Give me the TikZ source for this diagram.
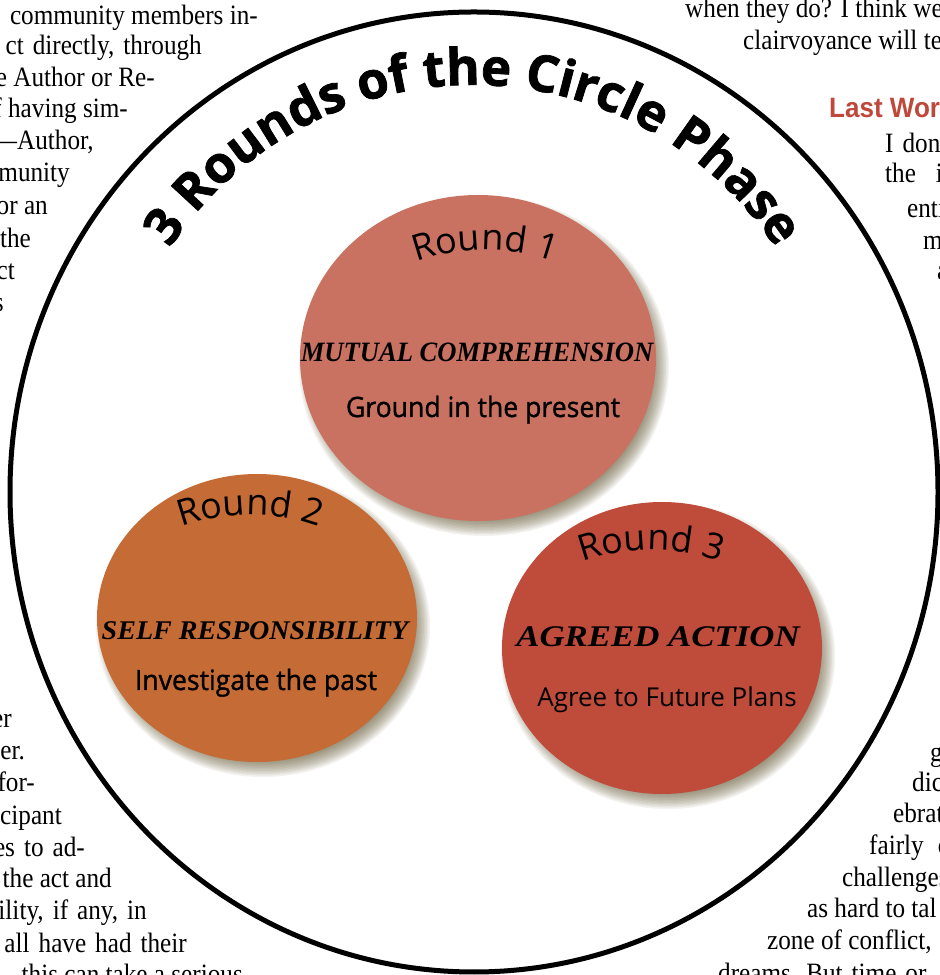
\documentclass[tikz,border=0pt]{standalone}
\usepackage{fontspec}
\usetikzlibrary{decorations.text,calc,shapes.geometric}
\newfontfamily\bodyfont[FakeStretch=0.9]{Liberation Serif}
\newfontfamily\headfont{Liberation Sans}
\newfontfamily\myr{Open Sans}
\newfontfamily\titlef[BoldFeatures={FakeBold=1.5}]{Open Sans}
\newfontfamily\myrsemi[FakeBold=1.2]{Open Sans}
\newfontfamily\slabfont{Liberation Serif}
\definecolor{rone}{RGB}{201,114,98}
\definecolor{rtwo}{RGB}{197,107,53}
\definecolor{rthree}{RGB}{191,75,59}
\definecolor{headred}{RGB}{192,72,59}
\definecolor{shad}{RGB}{95,82,45}
\newcommand\shadowell[4]{% cx cy rx ry
  \foreach \k in {0,...,11}{
    \fill[shad, opacity=0.075] (#1+6,#2-8) ellipse [x radius=#3+7-1.5*\k, y radius=#4+7-1.5*\k];
  }}
\tikzset{
  body/.style={font=\bodyfont\fontsize{28}{32}\selectfont, inner sep=0pt},
  bodyL/.style={body, anchor=base east},
  bodyR/.style={body, anchor=base west},
  roundcirc/.style={ellipse, inner sep=0pt},
  slab/.style={font=\slabfont\bfseries\itshape\fontsize{28}{30}\selectfont, inner sep=0pt, anchor=base},
  semi/.style={font=\myrsemi\fontsize{28}{30}\selectfont, inner sep=0pt, anchor=base},
}
\begin{document}
\begin{tikzpicture}[x=1pt,y=1pt]
\useasboundingbox (0,0) rectangle (940,975);
\clip (0,0) rectangle (940,975);
\fill[white] (0,0) rectangle (940,975);

% surrounding page text, left column
\node[bodyL] (l1) at (258,950) {community members in-};
\node[bodyL] (l2) at (202,920) {ct\hskip 9pt directly,\hskip 9pt through};
\node[bodyL] (l3) at (155,888) {e Author or Re-};
\node[bodyL] (l4) at (128,857) {f having sim-};
\node[bodyL] (l5) at (94,825) {—Author,};
\node[bodyL] (l6) at (70,793) {munity};
\node[bodyL] (l7) at (48,760) {or an};
\node[bodyL] (l8) at (31,727) {the};
\node[bodyL] (l9) at (15,695) {ct};
\node[bodyL] (l10) at (4,663) {s};
\node[bodyL] (b1) at (12,247) {er};
\node[bodyL] (b2) at (25,215) {er.};
\node[bodyL] (b3) at (35,183) {for-};
\node[bodyL] (b4) at (62,150) {cipant};
\node[bodyL] (b5) at (85,118) {es\hskip 9pt to\hskip 9pt ad-};
\node[bodyL] (b6) at (112,87) {the act and};
\node[bodyL] (b7) at (147,55) {ility,\hskip 9pt if\hskip 9pt any,\hskip 9pt in};
\node[bodyL] (b8) at (187,23) {all\hskip 9pt have\hskip 9pt had\hskip 9pt their};
\node[bodyL] (b9) at (243,-9) {this can take a serious};

% right column
\node[bodyR] (r1) at (685,957) {when they do? I think we};
\node[bodyR] (r2) at (743,925) {clairvoyance will tell};
\node[anchor=base west, inner sep=0pt, text=headred, xscale=0.93, font=\headfont\bfseries\fontsize{28}{30}\selectfont] (hd) at (829,857) {Last Words};
\node[bodyR] (r3) at (885,822) {I\hskip 9pt don’t};
\node[bodyR] (r4) at (885,792) {the\hskip 20pt in};
\node[bodyR] (r5) at (907,757) {enti};
\node[bodyR] (r6) at (923,725) {m};
\node[bodyR] (r7) at (937,695) {a};
\node[bodyR] (s1) at (930,213) {g};
\node[bodyR] (s2) at (912,183) {dic};
\node[bodyR] (s3) at (893,152) {ebrat};
\node[bodyR] (s4) at (869,120) {fairly\hskip 14pt c};
\node[bodyR] (s5) at (842,88) {challenges};
\node[bodyR] (s6) at (807,57) {as hard to tal};
\node[bodyR] (s7) at (767,25) {zone of conflict,};
\node[bodyR] (s8) at (718,-7) {dreams.\hskip 9pt But\hskip 9pt time\hskip 9pt or};

% outer circle
\node[ellipse, draw=black, line width=5pt, minimum width=928pt, minimum height=960pt, inner sep=0pt] (outer) at (474,483) {};

% title along arc
\coordinate (tc) at (473,527);
\path[decorate, decoration={text along path, text align=center,
  text={|\titlef\bfseries\fontsize{51}{53}\selectfont|3 Rounds of the Circle Phase}}]
  ($(tc)+(165:363)$) arc[start angle=165, end angle=15, radius=363];

% shadows of the round circles
\shadowell{478}{617}{178}{163}
\shadowell{257}{357}{160}{144}
\shadowell{662}{327}{160}{146}

% round circles
\node[roundcirc, fill=rone, minimum width=356pt, minimum height=326pt] (c1) at (478,617) {};
\node[roundcirc, fill=rtwo, minimum width=320pt, minimum height=288pt] (c2) at (257,357) {};
\node[roundcirc, fill=rthree, minimum width=320pt, minimum height=292pt] (c3) at (662,327) {};

% round labels
\coordinate (a1) at (485,525);
\path[decorate, decoration={text along path, text align=center,
  text={|\myr\fontsize{36}{38}\selectfont|Round 1}}]
  ($(a1)+(130:200)$) arc[start angle=130, end angle=50, radius=200];
\coordinate (a2) at (250,260);
\path[decorate, decoration={text along path, text align=center,
  text={|\myr\fontsize{36}{38}\selectfont|Round 2}}]
  ($(a2)+(130:200)$) arc[start angle=130, end angle=50, radius=200];
\coordinate (a3) at (651,225);
\path[decorate, decoration={text along path, text align=center,
  text={|\myr\fontsize{36}{38}\selectfont|Round 3}}]
  ($(a3)+(130:200)$) arc[start angle=130, end angle=50, radius=200];

% inner texts
\node[slab, xscale=0.95] (t1) at (477,613) {MUTUAL COMPREHENSION};
\node[semi, xscale=0.95] (u1) at (483,558) {Ground in the present};
\node[slab, xscale=1.04, font=\slabfont\bfseries\itshape\fontsize{27}{29}\selectfont] (t2) at (255,335) {SELF RESPONSIBILITY};
\node[semi, xscale=0.95] (u2) at (256,285) {Investigate the past};
\node[slab, xscale=1.16, font=\slabfont\bfseries\itshape\fontsize{30}{32}\selectfont] (t3) at (658,328) {AGREED ACTION};
\node[anchor=base, inner sep=0pt, font=\myr\fontsize{26}{28}\selectfont] (u3) at (667,268) {Agree to Future Plans};
\end{tikzpicture}
\end{document}
